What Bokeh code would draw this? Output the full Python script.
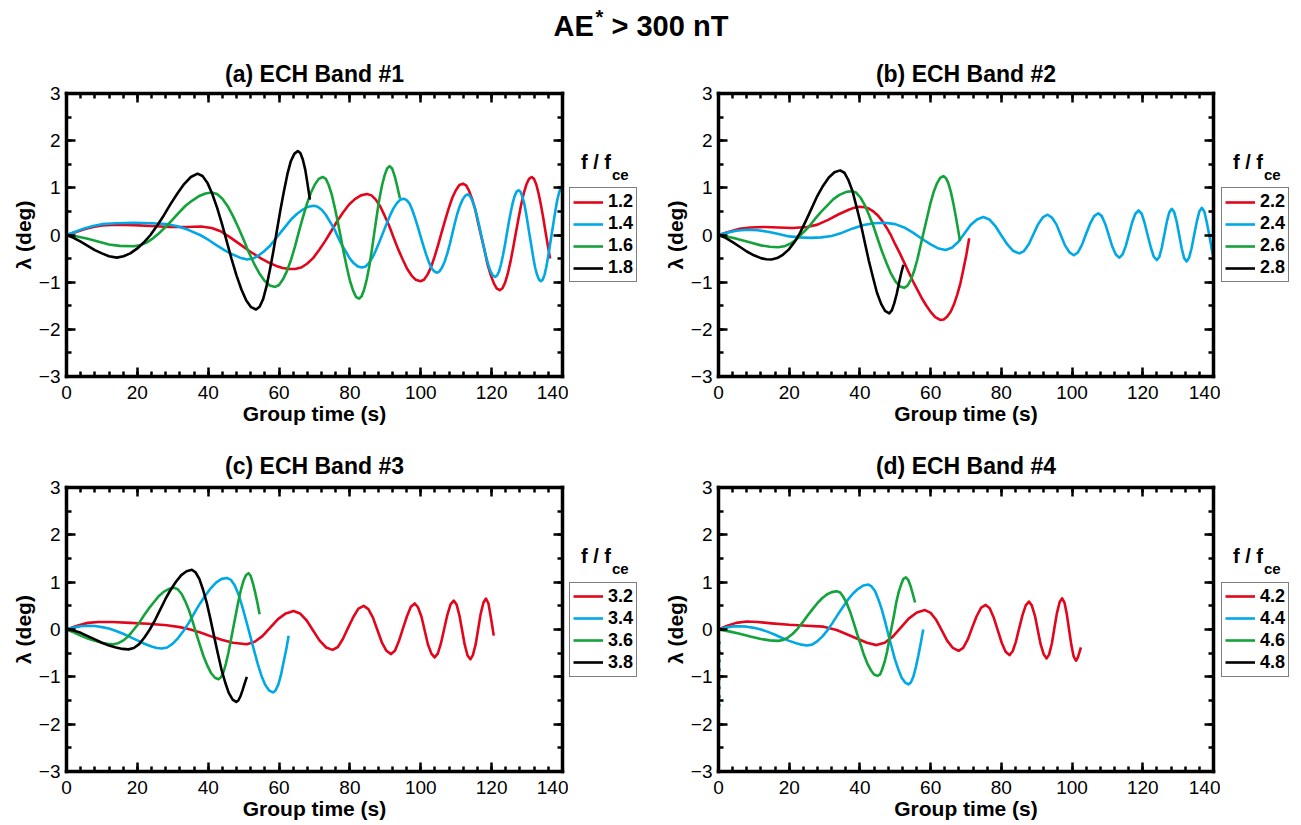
import numpy as np
from bokeh.plotting import figure
from bokeh.models import (Range1d, LinearAxis, SingleIntervalTicker, Legend, LegendItem,
                          CustomJSTickFormatter)
from bokeh.core.properties import value
from bokeh.layouts import column, row
from bokeh.embed import file_html
from bokeh.resources import INLINE

# ---------------- data: (group time [s], latitude lambda [deg]) ----------------
# Panel (a) ECH Band #1
A_12 = [(0,0),(2.5,0.06),(5,0.12),(7.5,0.17),(10,0.2),(14,0.22),(19,0.21),(24,0.19),(29,0.17),(34,0.17),(38,0.18),
        (41,0.15),(43.5,0.08),(46,-0.04),(49,-0.2),(52,-0.36),(55,-0.5),(57.5,-0.6),(59.5,-0.665),(61,-0.7),
        (62.7,-0.718),(64.5,-0.72),(66.2,-0.69),(67.9,-0.61),(69.6,-0.49),(71.3,-0.32),(73.0,-0.13),(74.7,0.08),
        (76.3,0.28),(78.0,0.47),(79.7,0.64),(81.4,0.76),(83.1,0.84),(84.8,0.87),(86.1,0.84),(87.3,0.75),(88.6,0.6),
        (89.8,0.41),(91.1,0.19),(92.35,-0.06),(93.6,-0.3),(94.9,-0.52),(96.1,-0.71),(97.4,-0.86),(98.6,-0.95),
        (99.9,-0.98),(100.9,-0.95),(101.9,-0.84),(102.9,-0.68),(103.9,-0.46),(104.9,-0.21),(105.9,0.06),(106.9,0.32),
        (107.9,0.57),(108.9,0.79),(109.9,0.95),(110.9,1.06),(111.9,1.09),(112.8,1.05),(113.6,0.94),(114.5,0.76),
        (115.4,0.53),(116.2,0.25),(117.1,-0.04),(118.0,-0.33),(118.8,-0.61),(119.7,-0.84),(120.6,-1.02),(121.4,-1.13),
        (122.3,-1.17),(123.05,-1.13),(123.8,-1.01),(124.55,-0.82),(125.3,-0.57),(126.05,-0.28),(126.8,0.03),
        (127.55,0.34),(128.3,0.63),(129.05,0.88),(129.8,1.07),(130.55,1.19),(131.3,1.23),(131.95,1.19),(132.6,1.07),
        (133.25,0.88),(133.9,0.64),(134.55,0.37),(135.2,0.07),(135.85,-0.22),(136.5,-0.5)]
A_14 = [(0,0),(2.5,0.07),(5,0.14),(7.5,0.19),(10,0.23),(14,0.25),(19,0.26),(24,0.25),(28.3,0.23),(31,0.19),(34,0.12),
        (37.7,0.0),(40,-0.1),(42.4,-0.22),(44.8,-0.33),(47.1,-0.42),(49,-0.48),(51,-0.52),(52.6,-0.5),(54.1,-0.44),
        (55.7,-0.35),(57.3,-0.24),(58.8,-0.1),(60.4,0.05),(62.0,0.2),(63.5,0.34),(65.1,0.45),(66.7,0.54),(68.2,0.6),
        (69.8,0.62),(70.9,0.6),(72.1,0.53),(73.2,0.43),(74.3,0.29),(75.5,0.14),(76.6,-0.04),(77.7,-0.21),(78.9,-0.36),
        (80.0,-0.5),(81.1,-0.6),(82.3,-0.67),(83.4,-0.69),(84.4,-0.67),(85.4,-0.59),(86.35,-0.48),(87.3,-0.33),
        (88.3,-0.15),(89.3,0.04),(90.3,0.23),(91.3,0.41),(92.25,0.56),(93.2,0.67),(94.2,0.75),(95.2,0.77),(96.0,0.74),
        (96.8,0.67),(97.55,0.54),(98.3,0.38),(99.1,0.19),(99.9,-0.02),(100.7,-0.22),(101.5,-0.41),(102.25,-0.57),
        (103.0,-0.7),(103.8,-0.77),(104.6,-0.8),(105.3,-0.77),(106.0,-0.69),(106.75,-0.56),(107.5,-0.39),(108.2,-0.19),
        (108.9,0.03),(109.6,0.25),(110.3,0.45),(111.05,0.62),(111.8,0.75),(112.5,0.83),(113.2,0.86),(113.85,0.83),
        (114.5,0.74),(115.15,0.6),(115.8,0.42),(116.45,0.21),(117.1,-0.02),(117.75,-0.24),(118.4,-0.45),(119.05,-0.63),
        (119.7,-0.77),(120.35,-0.86),(121,-0.89),(121.55,-0.86),(122.1,-0.77),(122.65,-0.62),(123.2,-0.43),
        (123.75,-0.21),(124.3,0.03),(124.85,0.27),(125.4,0.49),(125.95,0.68),(126.5,0.83),(127.05,0.92),(127.6,0.95),
        (128.1,0.92),(128.65,0.82),(129.2,0.67),(129.7,0.47),(130.2,0.24),(130.75,-0.02),(131.3,-0.27),(131.8,-0.5),
        (132.3,-0.7),(132.85,-0.85),(133.4,-0.95),(133.9,-0.98),(134.4,-0.95),(134.9,-0.85),(135.4,-0.69),(135.9,-0.48),
        (136.4,-0.24),(136.95,0.02),(137.5,0.28),(138.0,0.52),(138.5,0.73),(139.0,0.89),(139.5,0.99),(140,1.02)]
A_16 = [(0,0),(3,-0.03),(6,-0.08),(9.4,-0.15),(12,-0.2),(15,-0.23),(18.9,-0.24),(20.7,-0.22),(22.6,-0.16),(24.4,-0.07),
        (26.3,0.05),(28.1,0.18),(30.0,0.33),(31.8,0.48),(33.6,0.62),(35.5,0.73),(37.3,0.82),(39.2,0.88),(41,0.9),
        (42.5,0.87),(44.0,0.77),(45.5,0.61),(47.0,0.4),(48.5,0.16),(50.0,-0.1),(51.4,-0.36),(52.9,-0.6),(54.4,-0.81),
        (55.9,-0.97),(57.4,-1.07),(58.9,-1.1),(60.0,-1.06),(61.1,-0.94),(62.25,-0.76),(63.4,-0.52),(64.5,-0.24),
        (65.6,0.07),(66.7,0.37),(67.8,0.65),(68.95,0.89),(70.1,1.07),(71.2,1.19),(72.3,1.23),(73.2,1.19),(74.0,1.06),
        (74.9,0.85),(75.7,0.59),(76.6,0.27),(77.45,-0.06),(78.3,-0.39),(79.2,-0.71),(80.0,-0.97),(80.9,-1.18),
        (81.7,-1.31),(82.6,-1.35),(83.3,-1.3),(84.0,-1.16),(84.75,-0.94),(85.5,-0.65),(86.2,-0.31),(86.9,0.06),
        (87.6,0.42),(88.3,0.76),(89.05,1.05),(89.8,1.27),(90.5,1.41),(91.2,1.46),(91.9,1.41),(92.6,1.26),(93.3,1.05),
        (94.1,0.78)]
A_18 = [(0,0),(2,-0.06),(4,-0.14),(6,-0.23),(8,-0.32),(10,-0.39),(12,-0.45),(14.2,-0.48),(16.1,-0.45),(18.0,-0.39),
        (19.9,-0.29),(21.8,-0.16),(23.7,0.0),(25.6,0.2),(27.5,0.42),(29.4,0.66),(31.3,0.88),(33.2,1.08),(35.1,1.23),
        (37,1.3),(38.4,1.25),(39.75,1.11),(41.1,0.88),(42.5,0.58),(43.9,0.23),(45.25,-0.14),(46.6,-0.51),(48,-0.86),
        (49.4,-1.16),(50.75,-1.39),(52.1,-1.53),(53.5,-1.58),(54.5,-1.52),(55.5,-1.36),(56.45,-1.09),(57.4,-0.74),
        (58.4,-0.34),(59.4,0.1),(60.4,0.54),(61.4,0.94),(62.35,1.29),(63.3,1.56),(64.3,1.72),(65.3,1.78),(66.0,1.74),
        (66.7,1.6),(67.4,1.38),(68.0,1.1),(68.7,0.75)]

# Panel (b) ECH Band #2
B_22 = [(0,0),(3,0.07),(6,0.13),(9,0.16),(13,0.17),(17,0.16),(21,0.15),(25,0.17),(28,0.22),(31,0.32),(34,0.44),(37,0.54),
        (38.5,0.58),(40,0.6),(41.3,0.59),(42.5,0.56),(43.8,0.5),(45,0.42),(46.3,0.3),(47.5,0.16),(48.8,-0.01),(50,-0.2),
        (51.3,-0.39),(52.5,-0.58),(53.8,-0.79),(55,-0.98),(56.3,-1.17),(57.5,-1.34),(58.8,-1.5),(60,-1.63),(61.3,-1.74),
        (62.7,-1.8),(63.7,-1.79),(64.7,-1.73),(65.7,-1.62),(66.6,-1.47),(67.5,-1.27),(68.4,-1.03),(69.2,-0.75),
        (70.1,-0.42),(70.9,-0.07)]
B_24 = [(0,0),(2.5,0.05),(5,0.09),(8,0.11),(11,0.1),(14,0.07),(17,0.02),(20,-0.03),(23,-0.05),(26,-0.06),
        (29,-0.05),(32,-0.02),(35,0.05),(38,0.14),(41,0.21),(44,0.25),(47,0.26),(50,0.23),(52.5,0.16),(55,0.05),
        (57.5,-0.08),(60,-0.2),(62,-0.28),(64.2,-0.32),(66.0,-0.27),(67.8,-0.15),(69.55,0.03),(71.3,0.21),
        (73.1,0.33),(74.9,0.38),(76.6,0.33),(78.3,0.19),(80,-0.01),(81.7,-0.2),(83.4,-0.34),(85.1,-0.39),
        (86.4,-0.34),(87.8,-0.19),(89.1,0.02),(90.4,0.23),(91.8,0.38),(93.1,0.43),(94.3,0.37),(95.6,0.22),
        (96.8,0.0),(98.0,-0.22),(99.3,-0.37),(100.5,-0.43),(101.65,-0.37),(102.8,-0.21),(103.95,0.02),
        (105.1,0.24),(106.25,0.4),(107.4,0.46),(108.4,0.4),(109.4,0.23),(110.4,-0.01),(111.4,-0.25),
        (112.4,-0.42),(113.4,-0.48),(114.3,-0.41),(115.2,-0.23),(116.1,0.02),(117,0.27),(117.9,0.45),
        (118.8,0.52),(119.7,0.45),(120.5,0.26),(121.4,-0.01),(122.3,-0.27),(123.1,-0.46),(124,-0.53),
        (124.7,-0.46),(125.4,-0.26),(126.1,0.01),(126.8,0.28),(127.5,0.48),(128.2,0.555),(128.9,0.48),
        (129.6,0.28),(130.3,0.0),(131,-0.28),(131.7,-0.49),(132.4,-0.56),(133.1,-0.48),(133.8,-0.28),
        (134.55,0.01),(135.3,0.29),(136.0,0.5),(136.7,0.576),(137.4,0.5),(138.1,0.27),(138.8,0.0),
        (139.5,-0.3),(140,-0.48)]
B_26 = [(0,0),(4,-0.06),(8,-0.14),(12,-0.22),(14.5,-0.25),(16.9,-0.26),(18.6,-0.24),(20.4,-0.18),(22.1,-0.09),
        (23.8,0.04),(25.6,0.18),(27.3,0.34),(29.0,0.49),(30.8,0.63),(32.5,0.76),(34.2,0.85),(36.0,0.91),(37.7,0.93),
        (38.9,0.9),(40.2,0.79),(41.4,0.63),(42.6,0.42),(43.9,0.17),(45.1,-0.1),(46.3,-0.36),(47.6,-0.61),(48.8,-0.82),
        (50.0,-0.98),(51.3,-1.09),(52.5,-1.12),(53.4,-1.08),(54.35,-0.96),(55.3,-0.77),(56.2,-0.53),(57.1,-0.24),
        (58.05,0.07),(59.0,0.37),(59.9,0.66),(60.8,0.9),(61.75,1.09),(62.7,1.21),(63.6,1.25),(64.3,1.21),(65.0,1.1),
        (65.7,0.92),(66.4,0.68),(67.1,0.4),(67.7,0.14),(68.3,-0.13)]
B_28 = [(0,0),(2,-0.06),(4,-0.15),(6,-0.25),(8,-0.35),(10,-0.43),(12,-0.49),(13.5,-0.515),(15,-0.52),(16.6,-0.49),
        (18.2,-0.42),(19.85,-0.31),(21.5,-0.15),(23.1,0.05),(24.7,0.3),(26.3,0.56),(27.9,0.82),(29.55,1.04),(31.2,1.22),
        (32.8,1.33),(34.4,1.37),(35.6,1.32),(36.7,1.17),(37.9,0.93),(39.0,0.61),(40.2,0.25),(41.35,-0.15),(42.5,-0.54),
        (43.7,-0.9),(44.8,-1.22),(46.0,-1.46),(47.1,-1.61),(48.3,-1.66),(49.0,-1.6),(49.7,-1.45),(50.4,-1.25),
        (51.1,-1.0),(51.7,-0.8),(52.3,-0.63)]

# Panel (c) ECH Band #3
C_32 = [(0,0),(3,0.08),(6,0.14),(9,0.16),(13,0.16),(18,0.14),(23,0.12),(28.3,0.09),(32,0.05),(35,0.0),
        (38,-0.07),(41,-0.15),(44,-0.22),(47,-0.28),(50.9,-0.31),(53.1,-0.26),(55.3,-0.14),(57.5,0.04),
        (59.7,0.22),(61.9,0.34),(64.1,0.39),(65.9,0.34),(67.8,0.19),(69.6,-0.02),(71.4,-0.23),(73.3,-0.38),
        (75.1,-0.43),(76.6,-0.37),(78.0,-0.2),(79.5,0.04),(81.0,0.27),(82.4,0.44),(83.9,0.5),(85.2,0.43),
        (86.5,0.25),(87.75,-0.01),(89.0,-0.27),(90.3,-0.45),(91.6,-0.52),(92.7,-0.45),(93.8,-0.25),
        (94.95,0.02),(96.1,0.28),(97.2,0.48),(98.3,0.55),(99.2,0.47),(100.2,0.27),(101.1,-0.02),(102.0,-0.31),
        (103.0,-0.51),(103.9,-0.59),(104.8,-0.51),(105.7,-0.29),(106.6,0.01),(107.5,0.31),(108.4,0.53),
        (109.3,0.61),(110.1,0.53),(110.9,0.3),(111.65,-0.01),(112.4,-0.32),(113.2,-0.55),(114,-0.63),
        (114.7,-0.54),(115.5,-0.31),(116.2,0.01),(116.9,0.33),(117.7,0.57),(118.4,0.655),(119.1,0.55),
        (119.8,0.25),(120.6,-0.13)]
C_34 = [(0,0),(2,0.04),(4,0.07),(6,0.08),(8,0.075),(10,0.05),(12,0.02),(14,-0.03),(16,-0.09),(18,-0.16),(20,-0.23),
        (22,-0.3),(24,-0.36),(25.5,-0.39),(26.9,-0.4),(28.4,-0.38),(30.0,-0.3),(31.5,-0.18),(33.0,-0.03),(34.6,0.15),
        (36.1,0.35),(37.6,0.54),(39.2,0.72),(40.7,0.87),(42.2,0.99),(43.8,1.07),(45.3,1.09),(46.4,1.05),(47.5,0.93),
        (48.55,0.74),(49.6,0.49),(50.7,0.19),(51.8,-0.12),(52.9,-0.43),(54.0,-0.73),(55.05,-0.98),(56.1,-1.17),
        (57.2,-1.29),(58.3,-1.33),(59.0,-1.29),(59.8,-1.16),(60.5,-0.97),(61.2,-0.72),(62.0,-0.43),(62.7,-0.13)]
C_36 = [(0,0),(2,-0.06),(4,-0.13),(6,-0.19),(8,-0.24),(10,-0.28),(11.6,-0.3),(13.2,-0.31),(14.6,-0.29),(16.1,-0.23),
        (17.5,-0.14),(18.9,-0.01),(20.4,0.13),(21.8,0.29),(23.2,0.44),(24.7,0.58),(26.1,0.71),(27.5,0.8),(29.0,0.86),
        (30.4,0.88),(31.4,0.85),(32.5,0.75),(33.5,0.6),(34.6,0.4),(35.6,0.17),(36.65,-0.09),(37.7,-0.34),(38.7,-0.57),
        (39.8,-0.77),(40.8,-0.92),(41.9,-1.02),(42.9,-1.05),(43.6,-1.01),(44.3,-0.9),(45.0,-0.72),(45.7,-0.49),
        (46.4,-0.22),(47.15,0.07),(47.9,0.36),(48.6,0.63),(49.3,0.86),(50.0,1.04),(50.7,1.15),(51.4,1.19),(52.0,1.13),
        (52.6,0.98),(53.2,0.8),(53.9,0.56),(54.5,0.32)]
C_38 = [(0,0),(2,-0.02),(4,-0.07),(6,-0.14),(8,-0.21),(10,-0.28),(12,-0.34),(14,-0.38),(15.8,-0.41),(17.5,-0.42),
        (19.0,-0.39),(20.5,-0.31),(22.0,-0.17),(23.5,0.0),(25.0,0.2),(26.45,0.42),(27.9,0.64),(29.4,0.84),(30.9,1.01),
        (32.4,1.15),(33.9,1.23),(35.4,1.26),(36.4,1.21),(37.5,1.07),(38.5,0.85),(39.6,0.56),(40.6,0.23),(41.65,-0.14),
        (42.7,-0.5),(43.7,-0.83),(44.8,-1.12),(45.8,-1.34),(46.9,-1.48),(47.9,-1.53),(48.5,-1.5),(49.1,-1.41),
        (49.7,-1.28),(50.3,-1.14),(50.9,-1.0)]

# Panel (d) ECH Band #4
D_42 = [(0,0),(2.5,0.08),(5,0.14),(8,0.17),(11,0.16),(15,0.13),(20,0.1),(25,0.08),(29.7,0.06),(33.4,-0.01),
        (36.3,-0.1),(39.1,-0.19),(42,-0.28),(44.7,-0.33),(47.0,-0.28),(49.3,-0.15),(51.55,0.04),(53.8,0.23),
        (56.1,0.36),(58.4,0.41),(60.0,0.35),(61.6,0.2),(63.15,-0.02),(64.7,-0.24),(66.3,-0.39),(67.9,-0.45),
        (69.2,-0.39),(70.5,-0.21),(71.75,0.04),(73.0,0.28),(74.3,0.46),(75.6,0.52),(76.7,0.45),(77.8,0.26),
        (78.95,-0.01),(80.1,-0.28),(81.2,-0.47),(82.3,-0.54),(83.2,-0.46),(84.1,-0.26),(85.05,0.03),
        (86.0,0.31),(86.9,0.51),(87.8,0.59),(88.6,0.51),(89.5,0.29),(90.3,-0.01),(91.1,-0.31),(92.0,-0.53),
        (92.8,-0.61),(93.5,-0.53),(94.3,-0.29),(95,0.03),(95.7,0.34),(96.5,0.58),(97.2,0.66),(97.85,0.57),
        (98.5,0.33),(99.15,0.0),(99.8,-0.33),(100.45,-0.57),(101.1,-0.66),(101.6,-0.6),(102.1,-0.48),
        (102.5,-0.38)]
D_44 = [(0,0),(2,0.04),(4,0.065),(6,0.07),(8,0.06),(10,0.035),(12,0.0),(14,-0.05),(16,-0.11),(18,-0.18),(20,-0.24),
        (22,-0.29),(23.5,-0.32),(25,-0.34),(26.45,-0.32),(27.9,-0.25),(29.35,-0.15),(30.8,-0.02),(32.25,0.14),
        (33.7,0.31),(35.15,0.47),(36.6,0.63),(38.05,0.76),(39.5,0.86),(40.95,0.93),(42.4,0.95),(43.3,0.91),(44.3,0.81),
        (45.2,0.64),(46.2,0.42),(47.1,0.17),(48.05,-0.11),(49.0,-0.38),(49.9,-0.63),(50.9,-0.85),(51.8,-1.02),
        (52.8,-1.12),(53.7,-1.16),(54.4,-1.12),(55.1,-1.0),(55.8,-0.8),(56.5,-0.56),(57.2,-0.29),(57.9,0.0)]
D_46 = [(0,0),(3,-0.04),(6,-0.09),(9,-0.15),(12,-0.2),(14.5,-0.23),(16.9,-0.24),(18.3,-0.22),(19.65,-0.17),(21.0,-0.09),
        (22.4,0.02),(23.8,0.15),(25.15,0.29),(26.5,0.42),(27.9,0.55),(29.3,0.66),(30.65,0.74),(32.0,0.79),(33.4,0.81),
        (34.4,0.78),(35.3,0.69),(36.3,0.55),(37.3,0.36),(38.2,0.15),(39.2,-0.09),(40.2,-0.32),(41.1,-0.53),(42.1,-0.72),
        (43.1,-0.86),(44.0,-0.95),(45,-0.98),(45.7,-0.95),(46.3,-0.84),(47.0,-0.68),(47.7,-0.46),(48.3,-0.21),(49,0.06),
        (49.7,0.33),(50.3,0.58),(51.0,0.8),(51.7,0.96),(52.3,1.07),(53,1.1),(53.65,1.05),(54.3,0.92),(54.95,0.75),
        (55.6,0.57)]
D_46_EDGE = [(0.35,-0.25),(0.35,-1.62)]
D_48 = []

PANELS = [
    ("(a) ECH Band #1", ["1.2", "1.4", "1.6", "1.8"], [A_12, A_14, A_16, A_18]),
    ("(b) ECH Band #2", ["2.2", "2.4", "2.6", "2.8"], [B_22, B_24, B_26, B_28]),
    ("(c) ECH Band #3", ["3.2", "3.4", "3.6", "3.8"], [C_32, C_34, C_36, C_38]),
    ("(d) ECH Band #4", ["4.2", "4.4", "4.6", "4.8"], [D_42, D_44, D_46, D_48]),
]
X_LABEL = "Group time (s)"
Y_LABEL = "λ (deg)"
MAIN_TITLE = ["AE", "*", "> 300 nT"]
LEGEND_TITLE = ["f / f", "ce"]

COLORS = ["#E2061C", "#00A8E6", "#14A23A", "#000000"]
FONT = "Liberation Sans"


def style_axis(ax, show_labels):
    ax.axis_line_width = 3.5
    ax.axis_line_color = "black"
    ax.axis_line_cap = "square"
    ax.major_tick_in = 9
    ax.major_tick_out = 0
    ax.minor_tick_in = 5
    ax.minor_tick_out = 0
    ax.major_tick_line_width = 2.5
    ax.minor_tick_line_width = 2.5
    ax.major_tick_line_color = "black"
    ax.minor_tick_line_color = "black"
    ax.major_label_text_font = FONT
    ax.major_label_text_font_size = "19px"
    ax.major_label_text_color = "black"
    ax.axis_label_text_font = FONT
    ax.axis_label_text_font_size = "21px"
    ax.axis_label_text_font_style = "bold"
    ax.axis_label_text_color = "black"
    if not show_labels:
        ax.formatter = CustomJSTickFormatter(code="return ''")
        ax.major_label_standoff = 0
        ax.major_label_text_font_size = "0px"


def make_plot(title, curves, width, height, bl, br, bt, bb, title_standoff):
    p = figure(width=width, height=height, x_range=Range1d(0, 140), y_range=Range1d(-3, 3),
               output_backend="svg", toolbar_location=None, title=title,
               min_border_left=bl, min_border_right=br, min_border_top=bt, min_border_bottom=bb)
    p.title.align = "center"
    p.title.text_font = FONT
    p.title.text_font_size = "23px"
    p.title.text_font_style = "bold"
    p.title.text_color = "black"
    p.title.standoff = title_standoff
    p.grid.visible = False
    p.outline_line_color = None
    p.background_fill_color = "white"
    p.border_fill_color = "white"

    p.xaxis.ticker = SingleIntervalTicker(interval=20, num_minor_ticks=5)
    p.yaxis.ticker = SingleIntervalTicker(interval=1, num_minor_ticks=2)
    for ax in p.xaxis:
        style_axis(ax, True)
        ax.axis_label = X_LABEL
        ax.major_label_standoff = 9
        ax.axis_label_standoff = 0
    for ax in p.yaxis:
        style_axis(ax, True)
        ax.axis_label = Y_LABEL
        ax.major_label_standoff = 6
        ax.axis_label_standoff = 1
        ax.major_label_overrides = {-3: "−3", -2: "−2", -1: "−1"}
    top = LinearAxis(ticker=SingleIntervalTicker(interval=20, num_minor_ticks=5))
    style_axis(top, False)
    p.add_layout(top, "above")
    right = LinearAxis(ticker=SingleIntervalTicker(interval=1, num_minor_ticks=2))
    style_axis(right, False)
    p.add_layout(right, "right")

    for pts, col in zip(curves, COLORS):
        if not pts:
            continue
        p.line([q[0] for q in pts], [q[1] for q in pts], line_color=col, line_width=2.6, line_join="round")
    if title.startswith("(d)"):
        p.line([q[0] for q in D_46_EDGE], [q[1] for q in D_46_EDGE], line_color=COLORS[2],
               line_width=2.0, line_dash="3 6")
    return p


def make_legend_fig(labels, width, height, bt, bb, box_bottom):
    # frame shares the vertical extent (and the -3..3 scale) of the neighbouring plot
    f = figure(width=width, height=height, x_range=Range1d(0, width), y_range=Range1d(-3, 3),
               output_backend="svg", toolbar_location=None, title=None,
               min_border_left=0, min_border_right=0, min_border_top=bt, min_border_bottom=bb)
    f.xaxis.visible = False
    f.yaxis.visible = False
    f.grid.visible = False
    f.outline_line_color = None
    f.background_fill_color = "white"
    f.border_fill_color = "white"
    items = []
    for lab, col in zip(labels, COLORS):
        r = f.line(x=np.array([np.nan]), y=np.array([np.nan]), line_color=col, line_width=2.6)
        items.append(LegendItem(label=lab, renderers=[r]))
    legend = Legend(items=items, location=(1, box_bottom), orientation="vertical",
                    border_line_color="black", border_line_width=1.5,
                    background_fill_color="white", background_fill_alpha=1.0,
                    label_text_font=FONT, label_text_font_style="bold", label_text_font_size="18px",
                    label_text_color="black",
                    glyph_width=30, glyph_height=18, label_height=18, label_standoff=5,
                    spacing=1, padding=3, margin=0)
    f.add_layout(legend)
    f.text(x=[12.5], y=[1.55], text=[LEGEND_TITLE[0]], text_font=value(FONT),
           text_font_style="bold", text_font_size=value("20px"), text_baseline="middle",
           text_align="left", text_color="black")
    f.text(x=[43.5], y=[1.28], text=[LEGEND_TITLE[1]], text_font=value(FONT),
           text_font_style="bold", text_font_size=value("15px"), text_baseline="middle",
           text_align="left", text_color="black")
    return f


# main title strip (y axis runs downward in pixels)
tf = figure(width=1301, height=50, x_range=Range1d(0, 1301), y_range=Range1d(50, 0),
            output_backend="svg", toolbar_location=None, title=None, min_border=0)
tf.xaxis.visible = False
tf.yaxis.visible = False
tf.grid.visible = False
tf.outline_line_color = None
tf.text(x=[553], y=[25.5], text=[MAIN_TITLE[0]], text_font=value(FONT), text_font_style="bold",
        text_font_size=value("29px"), text_baseline="middle", text_align="left", text_color="black")
tf.text(x=[595], y=[16], text=[MAIN_TITLE[1]], text_font=value(FONT), text_font_style="bold",
        text_font_size=value("20px"), text_baseline="middle", text_align="left", text_color="black")
tf.text(x=[611], y=[25.5], text=[MAIN_TITLE[2]], text_font=value(FONT), text_font_style="bold",
        text_font_size=value("29px"), text_baseline="middle", text_align="left", text_color="black")

pa = make_plot(PANELS[0][0], PANELS[0][2], 568, 390, 66, 6, 43, 64, 14)
la = make_legend_fig(PANELS[0][1], 82, 390, 43, 64, 93.7)
pb = make_plot(PANELS[1][0], PANELS[1][2], 570, 390, 68, 7, 43, 64, 14)
lb = make_legend_fig(PANELS[1][1], 81, 390, 43, 64, 93.7)
pc = make_plot(PANELS[2][0], PANELS[2][2], 568, 385, 66, 6, 47, 54, 17)
lc = make_legend_fig(PANELS[2][1], 82, 385, 47, 54, 94.3)
pd = make_plot(PANELS[3][0], PANELS[3][2], 570, 385, 68, 7, 47, 54, 17)
ld = make_legend_fig(PANELS[3][1], 81, 385, 47, 54, 94.3)

layout = column(tf, row(pa, la, pb, lb), row(pc, lc, pd, ld))
open("out.html", "w").write(file_html(layout, INLINE))
